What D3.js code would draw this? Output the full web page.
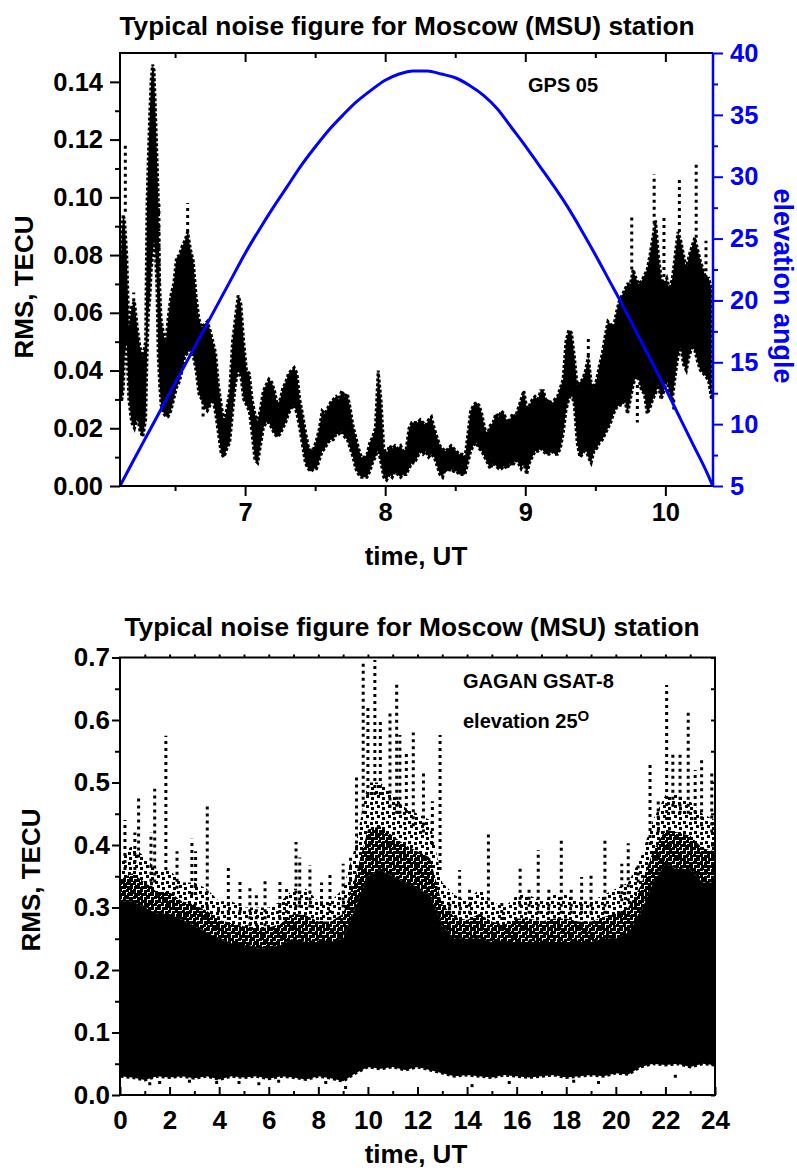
<!DOCTYPE html>
<html>
<head>
<meta charset="utf-8">
<script src="https://cdn.jsdelivr.net/npm/d3@7"></script>
<style>
  body { margin: 0; background: #fff; }
  svg text { font-family: "Liberation Sans", Arial, sans-serif; font-weight: bold; }
</style>
</head>
<body>
<div id="chart"></div>
<script>
// ---------- top panel data (GPS 05) ----------
// RMS band: lower and upper edge of the dense dots
let topTime = [6.107, 6.12, 6.13, 6.14, 6.155, 6.17, 6.19, 6.21, 6.23, 6.25, 6.27, 6.29, 6.30, 6.31, 6.32, 6.33, 6.34, 6.35, 6.36, 6.37, 6.38, 6.39, 6.40, 6.42, 6.435,
  6.45, 6.47, 6.49, 6.51, 6.53, 6.55, 6.57, 6.59, 6.61, 6.63, 6.65, 6.67, 6.69, 6.71, 6.73, 6.75, 6.77, 6.79, 6.81, 6.83, 6.85, 6.87, 6.89, 6.91, 6.93, 6.95, 6.97, 6.99,
  7.01, 7.03, 7.05, 7.07, 7.09, 7.11, 7.13, 7.15, 7.17, 7.19, 7.21, 7.23, 7.25, 7.27, 7.29, 7.31, 7.33, 7.35, 7.37, 7.39, 7.41, 7.43, 7.45, 7.47, 7.49,
  7.51, 7.53, 7.55, 7.57, 7.59, 7.61, 7.63, 7.65, 7.67, 7.69, 7.71, 7.73, 7.75, 7.77, 7.79, 7.81, 7.83, 7.85, 7.87, 7.89, 7.91, 7.93, 7.95, 7.97, 7.99,
  8.01, 8.03, 8.05, 8.07, 8.09, 8.11, 8.13, 8.15, 8.17, 8.19, 8.21, 8.23, 8.25, 8.27, 8.29, 8.31, 8.33, 8.35, 8.37, 8.39, 8.41, 8.43, 8.45, 8.47, 8.49,
  8.51, 8.53, 8.55, 8.57, 8.59, 8.61, 8.63, 8.65, 8.67, 8.69, 8.71, 8.73, 8.75, 8.77, 8.79, 8.81, 8.83, 8.85, 8.87, 8.89, 8.91, 8.93, 8.95, 8.97, 8.99,
  9.01, 9.03, 9.05, 9.07, 9.09, 9.11, 9.13, 9.15, 9.17, 9.19, 9.21, 9.23, 9.25, 9.27, 9.29, 9.31, 9.33, 9.35, 9.37, 9.39, 9.41, 9.43, 9.45, 9.47, 9.49,
  9.51, 9.53, 9.55, 9.57, 9.59, 9.61, 9.63, 9.65, 9.67, 9.69, 9.71, 9.73, 9.75, 9.77, 9.79, 9.81, 9.83, 9.85, 9.87, 9.89, 9.91, 9.93, 9.95, 9.97, 9.99,
  10.01, 10.03, 10.05, 10.07, 10.09, 10.11, 10.13, 10.15, 10.17, 10.19, 10.21, 10.23, 10.25, 10.27, 10.29, 10.31, 10.33];
let topLow = [0.030, 0.030, 0.033, 0.045, 0.050, 0.030, 0.022, 0.020, 0.024, 0.019, 0.017, 0.023, 0.045, 0.060, 0.065, 0.075, 0.080, 0.085, 0.080, 0.070, 0.045, 0.035, 0.028, 0.025, 0.024,
  0.024, 0.026, 0.030, 0.034, 0.036, 0.040, 0.045, 0.046, 0.048, 0.045, 0.040, 0.032, 0.030, 0.027, 0.026, 0.028, 0.030, 0.025, 0.018, 0.011, 0.010, 0.013, 0.015, 0.025, 0.035, 0.040, 0.038, 0.030,
  0.028, 0.026, 0.018, 0.009, 0.008, 0.014, 0.020, 0.022, 0.022, 0.020, 0.018, 0.017, 0.018, 0.020, 0.022, 0.025, 0.027, 0.028, 0.025, 0.020, 0.014, 0.008, 0.006, 0.005, 0.006,
  0.006, 0.009, 0.012, 0.013, 0.015, 0.016, 0.016, 0.018, 0.018, 0.019, 0.017, 0.016, 0.013, 0.010, 0.006, 0.004, 0.003, 0.003, 0.003, 0.005, 0.008, 0.010, 0.013, 0.008, 0.003,
  0.002, 0.004, 0.003, 0.005, 0.004, 0.003, 0.004, 0.004, 0.006, 0.008, 0.008, 0.010, 0.012, 0.011, 0.012, 0.010, 0.011, 0.010, 0.007, 0.004, 0.003, 0.006, 0.005, 0.006, 0.005,
  0.005, 0.004, 0.004, 0.004, 0.008, 0.012, 0.014, 0.015, 0.013, 0.012, 0.010, 0.008, 0.006, 0.008, 0.007, 0.006, 0.006, 0.007, 0.006, 0.008, 0.007, 0.009, 0.008, 0.006, 0.008,
  0.004, 0.008, 0.010, 0.012, 0.012, 0.013, 0.012, 0.011, 0.011, 0.012, 0.011, 0.011, 0.013, 0.018, 0.026, 0.030, 0.032, 0.028, 0.015, 0.010, 0.011, 0.013, 0.010, 0.008, 0.012,
  0.013, 0.015, 0.016, 0.018, 0.020, 0.022, 0.025, 0.027, 0.028, 0.028, 0.030, 0.025, 0.030, 0.035, 0.038, 0.037, 0.033, 0.032, 0.025, 0.027, 0.030, 0.032, 0.035, 0.030, 0.033,
  0.037, 0.032, 0.030, 0.038, 0.045, 0.048, 0.042, 0.040, 0.045, 0.048, 0.047, 0.043, 0.040, 0.039, 0.038, 0.036, 0.030];
let topHigh = [0.065, 0.088, 0.094, 0.092, 0.080, 0.055, 0.062, 0.064, 0.055, 0.048, 0.045, 0.050, 0.098, 0.115, 0.130, 0.141, 0.146, 0.144, 0.130, 0.115, 0.100, 0.070, 0.058, 0.052, 0.050,
  0.058, 0.066, 0.070, 0.079, 0.080, 0.083, 0.085, 0.088, 0.082, 0.078, 0.066, 0.058, 0.055, 0.056, 0.057, 0.054, 0.050, 0.046, 0.035, 0.028, 0.022, 0.027, 0.033, 0.050, 0.058, 0.066, 0.063, 0.050,
  0.040, 0.039, 0.030, 0.025, 0.022, 0.027, 0.033, 0.035, 0.037, 0.036, 0.033, 0.028, 0.030, 0.034, 0.036, 0.039, 0.040, 0.041, 0.039, 0.030, 0.025, 0.019, 0.014, 0.012, 0.013,
  0.016, 0.020, 0.026, 0.025, 0.027, 0.029, 0.030, 0.031, 0.030, 0.033, 0.031, 0.032, 0.027, 0.021, 0.017, 0.013, 0.010, 0.010, 0.011, 0.015, 0.017, 0.020, 0.040, 0.030, 0.013,
  0.011, 0.014, 0.013, 0.014, 0.013, 0.014, 0.012, 0.013, 0.020, 0.022, 0.022, 0.022, 0.023, 0.022, 0.021, 0.023, 0.024, 0.020, 0.017, 0.014, 0.013, 0.012, 0.013, 0.014, 0.013,
  0.012, 0.011, 0.011, 0.010, 0.018, 0.026, 0.028, 0.029, 0.028, 0.025, 0.020, 0.018, 0.021, 0.022, 0.025, 0.024, 0.026, 0.025, 0.022, 0.023, 0.025, 0.024, 0.027, 0.030, 0.033,
  0.027, 0.028, 0.030, 0.031, 0.030, 0.033, 0.033, 0.029, 0.030, 0.028, 0.030, 0.031, 0.034, 0.037, 0.050, 0.054, 0.053, 0.045, 0.035, 0.036, 0.037, 0.040, 0.045, 0.036, 0.034,
  0.037, 0.042, 0.046, 0.052, 0.057, 0.056, 0.055, 0.060, 0.064, 0.066, 0.068, 0.070, 0.070, 0.075, 0.072, 0.070, 0.071, 0.073, 0.075, 0.080, 0.086, 0.092, 0.080, 0.072, 0.070,
  0.072, 0.068, 0.072, 0.080, 0.088, 0.085, 0.080, 0.075, 0.080, 0.083, 0.086, 0.082, 0.078, 0.075, 0.072, 0.072, 0.068];
// sparse columns of dots outside the band: time, from, to
let topSparse = [[6.145, 0.095, 0.118], [6.205, 0.064, 0.067], [6.385, 0.070, 0.098], [6.59, 0.088, 0.098], [6.70, 0.030, 0.024],
  [9.45, 0.045, 0.052], [9.47, 0.010, 0.011], [9.76, 0.075, 0.094], [9.80, 0.035, 0.022], [9.92, 0.086, 0.108],
  [9.99, 0.070, 0.094], [10.06, 0.030, 0.026], [10.10, 0.088, 0.106], [10.22, 0.086, 0.112], [10.29, 0.072, 0.085]];
// satellite elevation (deg)
let elevTime = [6.107, 6.2, 6.3, 6.4, 6.5, 6.6, 6.7, 6.8, 6.9, 7.0, 7.1, 7.2, 7.3, 7.4, 7.5, 7.6, 7.7, 7.8, 7.9, 8.0,
  8.1, 8.2, 8.3, 8.4, 8.5, 8.6, 8.7, 8.8, 8.9, 9.0, 9.1, 9.2, 9.3, 9.4, 9.5, 9.6, 9.7, 9.8, 9.9, 10.0, 10.1, 10.2, 10.3, 10.338];
let elevAngle = [5, 7.0, 9.1, 11.2, 13.3, 15.4, 17.5, 19.6, 21.7, 23.8, 25.7, 27.5, 29.2, 30.9, 32.4, 33.8, 35.0, 36.1, 37.0, 37.8,
  38.3, 38.55, 38.55, 38.3, 38.0, 37.4, 36.6, 35.5, 34.0, 32.5, 30.9, 29.3, 27.6, 25.7, 23.7, 21.6, 19.5, 17.3, 15.1, 12.9, 10.6, 8.3, 6.0, 5];
let topXTicks = [7, 8, 9, 10];
let topXMinor = [6.5, 7.5, 8.5, 9.5];
let topYTicks = [0, 0.02, 0.04, 0.06, 0.08, 0.10, 0.12, 0.14];
let topYMinor = [0.01, 0.03, 0.05, 0.07, 0.09, 0.11, 0.13];
let elevTicks = [5, 10, 15, 20, 25, 30, 35, 40];
let elevMinor = [7.5, 12.5, 17.5, 22.5, 27.5, 32.5, 37.5];

// ---------- bottom panel data (GAGAN GSAT-8) ----------
let botTime = [0, 0.5, 1, 1.5, 2, 2.5, 3, 3.5, 4, 4.5, 5, 5.5, 6, 6.5, 7, 7.5, 8, 8.5, 9, 9.5, 10, 10.5, 11, 11.5, 12,
  12.5, 13, 13.5, 14, 14.5, 15, 15.5, 16, 16.5, 17, 17.5, 18, 18.5, 19, 19.5, 20, 20.5, 21, 21.5, 22, 22.5, 23, 23.5, 24];
let botLow = [0.030, 0.028, 0.024, 0.030, 0.028, 0.030, 0.027, 0.030, 0.025, 0.030, 0.028, 0.030, 0.026, 0.030, 0.028, 0.025, 0.030, 0.027, 0.022, 0.035, 0.045, 0.042, 0.045, 0.040, 0.045,
  0.040, 0.035, 0.030, 0.032, 0.030, 0.028, 0.032, 0.030, 0.028, 0.030, 0.032, 0.028, 0.030, 0.032, 0.030, 0.035, 0.033, 0.045, 0.050, 0.048, 0.050, 0.045, 0.050, 0.048];
// top of the solid black core
let botSolid = [0.31, 0.31, 0.30, 0.29, 0.29, 0.28, 0.27, 0.26, 0.25, 0.24, 0.24, 0.235, 0.235, 0.24, 0.25, 0.245, 0.245, 0.245, 0.25, 0.30, 0.35, 0.36, 0.35, 0.34, 0.33,
  0.32, 0.27, 0.25, 0.25, 0.25, 0.245, 0.245, 0.245, 0.245, 0.245, 0.245, 0.245, 0.245, 0.245, 0.25, 0.25, 0.26, 0.29, 0.34, 0.37, 0.36, 0.36, 0.34, 0.34];
// top of the scattered dots
let botDense = [0.38, 0.40, 0.38, 0.36, 0.36, 0.34, 0.34, 0.33, 0.31, 0.31, 0.30, 0.30, 0.30, 0.31, 0.33, 0.33, 0.31, 0.31, 0.33, 0.40, 0.50, 0.50, 0.48, 0.46, 0.45,
  0.44, 0.34, 0.32, 0.31, 0.33, 0.31, 0.30, 0.32, 0.32, 0.31, 0.32, 0.32, 0.31, 0.31, 0.32, 0.33, 0.34, 0.38, 0.44, 0.48, 0.48, 0.47, 0.45, 0.44];
// isolated columns of dots: time, from, to
let botSpikes = [[0.2, 0.36, 0.44], [0.6, 0.36, 0.42], [0.75, 0.38, 0.48], [1.25, 0.33, 0.42], [1.4, 0.34, 0.49], [1.85, 0.36, 0.575],
  [2.3, 0.33, 0.39], [2.9, 0.32, 0.41], [3.05, 0.32, 0.39], [3.52, 0.30, 0.467], [3.97, 0.27, 0.30], [4.37, 0.28, 0.368],
  [4.84, 0.28, 0.347], [5.24, 0.27, 0.336], [5.5, 0.27, 0.32], [5.85, 0.27, 0.344], [6.45, 0.28, 0.341], [6.72, 0.28, 0.33],
  [7.1, 0.30, 0.405], [7.25, 0.30, 0.38], [7.66, 0.30, 0.368], [8.13, 0.28, 0.34], [8.47, 0.28, 0.352], [9.0, 0.30, 0.37],
  [9.3, 0.33, 0.38], [9.54, 0.38, 0.51], [9.81, 0.45, 0.69], [10.0, 0.48, 0.62], [10.28, 0.48, 0.696], [10.5, 0.48, 0.60],
  [10.89, 0.46, 0.616], [11.16, 0.45, 0.66], [11.29, 0.45, 0.576], [11.55, 0.44, 0.55], [11.83, 0.43, 0.58], [12.24, 0.42, 0.515],
  [12.6, 0.40, 0.47], [12.91, 0.36, 0.576], [13.3, 0.29, 0.31], [13.7, 0.29, 0.36], [14.1, 0.29, 0.33], [14.86, 0.30, 0.42],
  [15.4, 0.28, 0.31], [16.14, 0.29, 0.368], [16.5, 0.29, 0.33], [16.87, 0.29, 0.392], [17.3, 0.29, 0.33], [17.8, 0.29, 0.41],
  [18.2, 0.29, 0.33], [18.62, 0.29, 0.349], [19.0, 0.29, 0.352], [19.56, 0.29, 0.408], [20.24, 0.31, 0.37], [20.5, 0.31, 0.403],
  [20.9, 0.34, 0.37], [21.38, 0.40, 0.528], [21.71, 0.42, 0.47], [22.05, 0.44, 0.656], [22.3, 0.45, 0.55], [22.59, 0.45, 0.547],
  [22.92, 0.45, 0.613], [23.2, 0.44, 0.52], [23.46, 0.43, 0.536], [23.87, 0.42, 0.515]];
// single low dots under the band: time, value
let botLowDots = [[1.2, 0.018], [1.6, 0.020], [2.8, 0.022], [3.9, 0.020], [4.8, 0.020], [5.6, 0.018], [6.4, 0.022],
  [8.3, 0.020], [9.1, 0.012], [14.2, 0.015], [15.7, 0.020], [18.3, 0.022], [19.3, 0.020], [22.4, 0.030]];
let botXTicks = [0, 2, 4, 6, 8, 10, 12, 14, 16, 18, 20, 22, 24];
let botXMinor = [1, 3, 5, 7, 9, 11, 13, 15, 17, 19, 21, 23];
let botXTop = [1, 2, 3, 4, 5, 6, 7, 8, 9, 10, 11, 12, 13, 14, 15, 16, 17, 18, 19, 20, 21, 22, 23];
let botYTicks = [0, 0.1, 0.2, 0.3, 0.4, 0.5, 0.6, 0.7];
let botYMinor = [0.05, 0.15, 0.25, 0.35, 0.45, 0.55, 0.65];

let titleText = 'Typical noise figure for Moscow (MSU) station';
let blue = '#0000ff';

// ---------- svg ----------
let svg = d3.select('#chart').append('svg')
    .attr('width', 797)
    .attr('height', 1175);
let defs = svg.append('defs');

// dot textures for the scattered part of the lower panel
let dense = defs.append('pattern').attr('id', 'denseDots')
    .attr('patternUnits', 'userSpaceOnUse').attr('width', 7).attr('height', 7);
[[0, 0], [4, 1], [1, 4], [4, 4]].forEach(p =>
    dense.append('rect').attr('x', p[0]).attr('y', p[1]).attr('width', 3).attr('height', 3).attr('fill', '#000'));
let sparse = defs.append('pattern').attr('id', 'sparseDots')
    .attr('patternUnits', 'userSpaceOnUse').attr('width', 11).attr('height', 10);
[[1, 1], [7, 2], [3, 5], [8, 7]].forEach(p =>
    sparse.append('rect').attr('x', p[0]).attr('y', p[1]).attr('width', 3).attr('height', 3).attr('fill', '#000'));

defs.append('clipPath').attr('id', 'clipTop').append('rect')
    .attr('x', 120).attr('y', 53).attr('width', 593).attr('height', 433);
defs.append('clipPath').attr('id', 'clipBot').append('rect')
    .attr('x', 120).attr('y', 657.5).attr('width', 595).attr('height', 437.5);

function styleAxis(g, color, size) {
    g.select('.domain').remove();
    g.selectAll('line').attr('stroke', color).attr('stroke-width', 2);
    g.selectAll('text')
        .attr('fill', color)
        .attr('font-size', size)
        .attr('font-weight', 'bold')
        .attr('font-family', '"Liberation Sans", Arial, sans-serif');
}

// ================= top panel =================
let xTop = d3.scaleLinear().domain([6.107, 10.34]).range([120, 713]);
let yTop = d3.scaleLinear().domain([0, 0.15]).range([486, 53]);
let yElev = d3.scaleLinear().domain([5, 40]).range([486, 53]);

let topRows = topTime.map((t, i) => ({t: t, lo: topLow[i], hi: topHigh[i]}));
let topPlot = svg.append('g').attr('clip-path', 'url(#clipTop)');
topPlot.append('path')
    .datum(topRows)
    .attr('d', d3.area().x(d => xTop(d.t)).y0(d => yTop(d.lo)).y1(d => yTop(d.hi)))
    .attr('fill', '#000')
    .attr('stroke', '#000')
    .attr('stroke-width', 3)
    .attr('stroke-dasharray', '3,2');
topPlot.selectAll('line.sparse')
    .data(topSparse).enter()
    .append('line')
    .attr('class', 'sparse')
    .attr('x1', d => xTop(d[0])).attr('x2', d => xTop(d[0]))
    .attr('y1', d => yTop(d[1])).attr('y2', d => yTop(d[2]))
    .attr('stroke', '#000').attr('stroke-width', 3)
    .attr('stroke-dasharray', '3,4');

// elevation curve
topPlot.append('path')
    .datum(elevTime.map((t, i) => ({t: t, e: elevAngle[i]})))
    .attr('d', d3.line().x(d => xTop(d.t)).y(d => yElev(d.e)).curve(d3.curveMonotoneX))
    .attr('fill', 'none')
    .attr('stroke', blue)
    .attr('stroke-width', 3);

// axes
let tickFont = 25.5;
styleAxis(svg.append('g').attr('transform', 'translate(0,486)')
    .call(d3.axisBottom(xTop).tickValues(topXTicks).tickFormat(d3.format('d')).tickSize(10).tickPadding(7)), '#000', tickFont);
styleAxis(svg.append('g').attr('transform', 'translate(0,486)')
    .call(d3.axisBottom(xTop).tickValues(topXMinor).tickFormat('').tickSize(5)), '#000', tickFont);
styleAxis(svg.append('g').attr('transform', 'translate(0,53)')
    .call(d3.axisTop(xTop).tickValues(topXTicks).tickFormat('').tickSize(-9)), '#000', tickFont);
styleAxis(svg.append('g').attr('transform', 'translate(0,53)')
    .call(d3.axisTop(xTop).tickValues(topXMinor).tickFormat('').tickSize(-5)), '#000', tickFont);
styleAxis(svg.append('g').attr('transform', 'translate(120,0)')
    .call(d3.axisLeft(yTop).tickValues(topYTicks).tickFormat(d3.format('.2f')).tickSize(10).tickPadding(7)), '#000', tickFont);
styleAxis(svg.append('g').attr('transform', 'translate(120,0)')
    .call(d3.axisLeft(yTop).tickValues(topYMinor).tickFormat('').tickSize(5)), '#000', tickFont);
styleAxis(svg.append('g').attr('transform', 'translate(713,0)')
    .call(d3.axisRight(yElev).tickValues(elevTicks).tickFormat(d3.format('d')).tickSize(10).tickPadding(7)), blue, tickFont);
styleAxis(svg.append('g').attr('transform', 'translate(713,0)')
    .call(d3.axisRight(yElev).tickValues(elevMinor).tickFormat('').tickSize(5)), blue, tickFont);

// frame
svg.append('path').attr('d', 'M713,53 H120 V486 H713').attr('fill', 'none').attr('stroke', '#000').attr('stroke-width', 2);
svg.append('line').attr('x1', 713).attr('x2', 713).attr('y1', 53).attr('y2', 486).attr('stroke', blue).attr('stroke-width', 2.5);

// texts
svg.append('text').attr('x', 407).attr('y', 35).attr('text-anchor', 'middle').attr('font-size', 26.3).text(titleText);
svg.append('text').attr('x', 528).attr('y', 92).attr('font-size', 20).text('GPS 05');
svg.append('text').attr('x', 416).attr('y', 565).attr('text-anchor', 'middle').attr('font-size', 26).text('time, UT');
svg.append('text').attr('transform', 'translate(33,287) rotate(-90)').attr('text-anchor', 'middle').attr('font-size', 26).text('RMS, TECU');
svg.append('text').attr('transform', 'translate(774,286) rotate(90)').attr('text-anchor', 'middle').attr('font-size', 27)
    .attr('fill', blue).text('elevation angle');

// ================= bottom panel =================
let xBot = d3.scaleLinear().domain([0, 24]).range([120, 715]);
let yBot = d3.scaleLinear().domain([0, 0.7]).range([1095, 657.5]);

let botRows = botTime.map((t, i) => ({t: t, lo: botLow[i], solid: botSolid[i], top: botDense[i]}));
let botPlot = svg.append('g').attr('clip-path', 'url(#clipBot)');
botPlot.append('path')
    .datum(botRows)
    .attr('d', d3.area().x(d => xBot(d.t)).y0(d => yBot(d.solid)).y1(d => yBot(d.top)))
    .attr('fill', 'url(#sparseDots)');
botPlot.append('path')
    .datum(botRows)
    .attr('d', d3.area().x(d => xBot(d.t)).y0(d => yBot(d.solid)).y1(d => yBot((d.solid + d.top) / 2)))
    .attr('fill', 'url(#denseDots)');
botPlot.append('path')
    .datum(botRows)
    .attr('d', d3.area().x(d => xBot(d.t)).y0(d => yBot(d.lo)).y1(d => yBot(d.solid)))
    .attr('fill', '#000')
    .attr('stroke', '#000')
    .attr('stroke-width', 3)
    .attr('stroke-dasharray', '3,3');
botPlot.selectAll('line.spike')
    .data(botSpikes).enter()
    .append('line')
    .attr('class', 'spike')
    .attr('x1', d => xBot(d[0])).attr('x2', d => xBot(d[0]))
    .attr('y1', d => yBot(d[1])).attr('y2', d => yBot(d[2]))
    .attr('stroke', '#000').attr('stroke-width', 3)
    .attr('stroke-dasharray', '3,4');
botPlot.selectAll('rect.low')
    .data(botLowDots).enter()
    .append('rect')
    .attr('class', 'low')
    .attr('x', d => xBot(d[0]) - 1.5).attr('y', d => yBot(d[1]) - 1.5)
    .attr('width', 3).attr('height', 3).attr('fill', '#000');

let botFont = 26;
styleAxis(svg.append('g').attr('transform', 'translate(0,1095)')
    .call(d3.axisBottom(xBot).tickValues(botXTicks).tickFormat(d3.format('d')).tickSize(-8).tickPadding(16)), '#000', botFont);
styleAxis(svg.append('g').attr('transform', 'translate(0,1095)')
    .call(d3.axisBottom(xBot).tickValues(botXMinor).tickFormat('').tickSize(-4)), '#000', botFont);
styleAxis(svg.append('g').attr('transform', 'translate(0,657.5)')
    .call(d3.axisTop(xBot).tickValues(botXTop).tickFormat('').tickSize(3)), '#000', botFont);
styleAxis(svg.append('g').attr('transform', 'translate(120,0)')
    .call(d3.axisLeft(yBot).tickValues(botYTicks).tickFormat(d3.format('.1f')).tickSize(8).tickPadding(2)), '#000', botFont);
styleAxis(svg.append('g').attr('transform', 'translate(120,0)')
    .call(d3.axisLeft(yBot).tickValues(botYMinor).tickFormat('').tickSize(5)), '#000', botFont);
styleAxis(svg.append('g').attr('transform', 'translate(715,0)')
    .call(d3.axisRight(yBot).tickValues(botYTicks.concat(botYMinor)).tickFormat('').tickSize(-4)), '#000', botFont);

svg.append('rect').attr('x', 120).attr('y', 657.5).attr('width', 595).attr('height', 437.5)
    .attr('fill', 'none').attr('stroke', '#000').attr('stroke-width', 2);

svg.append('text').attr('x', 412).attr('y', 636).attr('text-anchor', 'middle').attr('font-size', 26.3).text(titleText);
svg.append('text').attr('x', 463).attr('y', 688).attr('font-size', 20).text('GAGAN GSAT-8');
let elevLabel = svg.append('text').attr('x', 463).attr('y', 728).attr('font-size', 20);
elevLabel.append('tspan').text('elevation 25');
elevLabel.append('tspan').attr('font-size', 15).attr('dy', -7).text('O');
svg.append('text').attr('x', 416).attr('y', 1163).attr('text-anchor', 'middle').attr('font-size', 26).text('time, UT');
svg.append('text').attr('transform', 'translate(40,880) rotate(-90)').attr('text-anchor', 'middle').attr('font-size', 26).text('RMS, TECU');
</script>
</body>
</html>
